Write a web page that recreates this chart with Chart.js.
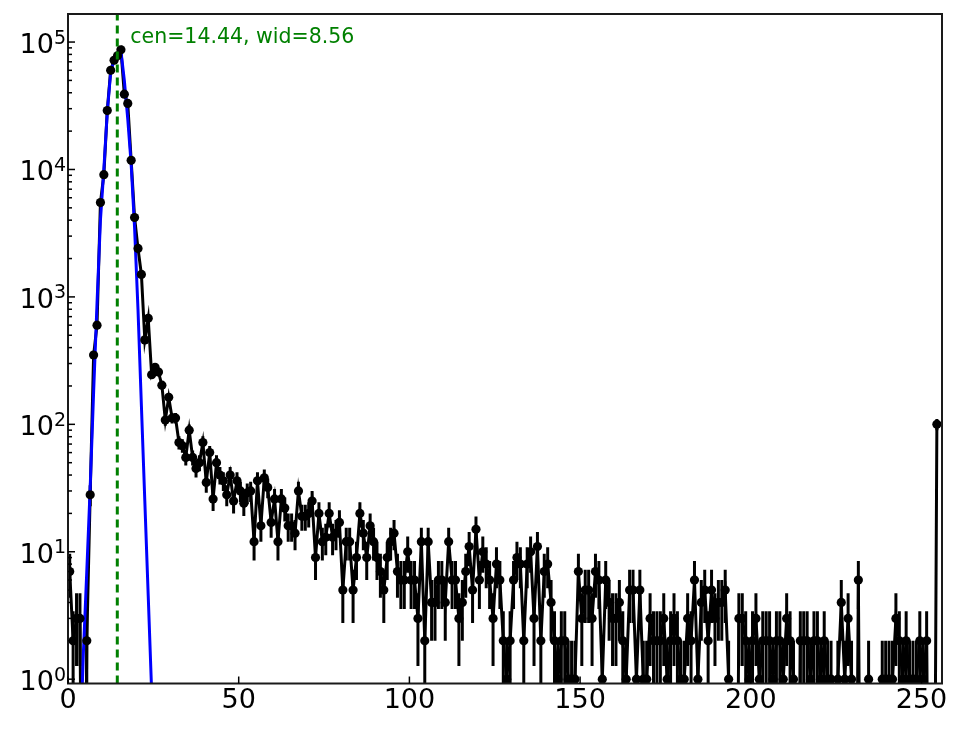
<!DOCTYPE html>
<html>
<head>
<meta charset="utf-8">
<script src="https://cdn.jsdelivr.net/npm/chart.js@4.4.1/dist/chart.umd.min.js"></script>
<style>
html,body{margin:0;padding:0;background:#ffffff;}
#wrap{width:964px;height:729px;position:relative;}
</style>
</head>
<body>
<div id="wrap"><canvas id="c"></canvas></div>
<script>
// ---- data ----
// histogram counts, one per bin (bins 0..254), plotted at bin centres
const counts = [
  7, 2, 3, 3, 0, 2, 28, 350, 600, 5500,
  9100, 29000, 60000, 72000, 78000, 87000, 39000, 33000, 11800, 4200,
  2400, 1500, 460, 680, 245, 280, 257, 203, 108, 163,
  112, 112, 72, 68, 55, 90, 55, 45, 50, 72,
  35, 60, 26, 50, 40, 36, 28, 40, 25, 36,
  30, 24, 29, 30, 12, 36, 16, 38, 32, 17,
  26, 12, 26, 22, 16, 16, 14, 30, 19, 19,
  20, 25, 9, 20, 12, 13, 20, 13, 14, 17,
  5, 12, 12, 5, 9, 20, 14, 9, 16, 12,
  9, 7, 5, 9, 12, 14, 7, 6, 6, 10,
  6, 6, 3, 12, 2, 12, 4, 4, 6, 6,
  4, 12, 6, 6, 3, 4, 7, 11, 5, 15,
  6, 10, 8, 6, 3, 8, 6, 2, 1, 2,
  6, 9, 8, 2, 8, 10, 3, 11, 2, 7,
  8, 4, 2, 1, 2, 2, 1, 1, 1, 7,
  3, 5, 5, 3, 7, 6, 1, 6, 4, 3,
  3, 4, 2, 1, 5, 5, 1, 5, 1, 1,
  3, 2, 2, 2, 3, 1, 2, 3, 2, 1,
  1, 3, 2, 6, 1, 4, 5, 2, 5, 3,
  4, 4, 5, 1, 0, 0, 3, 3, 2, 1,
  2, 3, 1, 2, 2, 2, 1, 2, 2, 1,
  3, 2, 1, 0, 2, 2, 2, 1, 2, 2,
  1, 2, 1, 1, 0, 1, 4, 1, 3, 1,
  0, 6, 0, 0, 1, 0, 0, 0, 1, 1,
  1, 1, 3, 2, 1, 2, 1, 1, 1, 2,
  1, 2, 0, 0, 100
];
const binOffset = 0.5;

const fitX = [3.5, 4.5, 5.5, 6.5, 7.5, 8.5, 9.5, 10.5, 11.5, 12.5, 13.5, 14.5,
              15.5, 16.5, 17.5, 18.5, 19.5, 20.5, 21.5, 22.5, 23.5, 24.5, 25.5];
const fitY = [0.25, 1.6, 7, 32, 178, 890, 4000, 10000, 28000, 58000, 72000, 80000,
              85000, 50000, 25000, 11000, 3500, 800, 140, 25, 4.5, 0.8, 0.12];

const fitCentre = 14.44;
const annotationText = 'cen=14.44, wid=8.56';

const xTickValues = [0, 50, 100, 150, 200, 250];
const xTickLabels = ['0', '50', '100', '150', '200', '250'];
const yDecadeExponents = [0, 1, 2, 3, 4, 5];

// empty bins are drawn down to (below) the bottom of the log axis
const logFloor = 1e-3;

// ---- build chart data ----
const dataPoints = counts.map((c, i) => ({x: i + binOffset, y: c > 0 ? c : logFloor}));
const fitPoints = fitX.map((x, i) => ({x: x, y: fitY[i]}));

const FONT = '"DejaVu Sans", "Liberation Sans", sans-serif';

const decorPlugin = {
  id: 'decor',
  beforeDatasetsDraw(chart) {
    const {ctx, chartArea, scales} = chart;
    const xs = scales.x, ys = scales.y;
    ctx.save();
    ctx.beginPath();
    ctx.rect(chartArea.left, chartArea.top, chartArea.right - chartArea.left, chartArea.bottom - chartArea.top);
    ctx.clip();
    ctx.strokeStyle = '#000000';
    ctx.lineWidth = 3;
    ctx.lineCap = 'butt';
    counts.forEach((c, i) => {
      if (c <= 0) return;
      const e = Math.sqrt(c);
      const px = xs.getPixelForValue(i + binOffset);
      const lo = c - e;
      const pLo = lo > 0 ? ys.getPixelForValue(lo) : chartArea.bottom + 5;
      const pHi = ys.getPixelForValue(c + e);
      ctx.beginPath();
      ctx.moveTo(px, Math.min(pLo, chartArea.bottom + 5));
      ctx.lineTo(px, pHi);
      ctx.stroke();
    });
    ctx.restore();
  },
  afterDatasetsDraw(chart) {
    const {ctx, chartArea, scales} = chart;
    const xs = scales.x, ys = scales.y;
    const L = chartArea.left, R = chartArea.right, T = chartArea.top, B = chartArea.bottom;

    // green dashed centre line
    ctx.save();
    const gx = xs.getPixelForValue(fitCentre);
    ctx.strokeStyle = '#008000';
    ctx.lineWidth = 3;
    ctx.setLineDash([8, 5]);
    ctx.beginPath();
    ctx.moveTo(gx, B);
    ctx.lineTo(gx, T);
    ctx.stroke();
    ctx.restore();

    // annotation
    ctx.save();
    ctx.fillStyle = '#008000';
    ctx.font = '20.5px ' + FONT;
    ctx.textAlign = 'left';
    ctx.textBaseline = 'alphabetic';
    ctx.fillText(annotationText, gx + 13, T + 29);
    ctx.restore();

    // frame
    ctx.save();
    ctx.strokeStyle = '#1a1a1a';
    ctx.lineWidth = 2;
    ctx.strokeRect(L, T, R - L, B - T);

    // ticks (inward, bottom and left only)
    ctx.lineWidth = 1.5;
    ctx.strokeStyle = '#000000';
    xTickValues.forEach(v => {
      const px = xs.getPixelForValue(v);
      ctx.beginPath(); ctx.moveTo(px, B); ctx.lineTo(px, B - 7); ctx.stroke();
    });
    yDecadeExponents.forEach(e => {
      for (let m = 1; m <= 9; m++) {
        const v = m * Math.pow(10, e);
        if (v < ys.min || v > ys.max) continue;
        const py = ys.getPixelForValue(v);
        const len = m === 1 ? 7 : 4;
        ctx.beginPath(); ctx.moveTo(L, py); ctx.lineTo(L + len, py); ctx.stroke();
      }
    });

    // x labels
    ctx.fillStyle = '#000000';
    ctx.font = '27px ' + FONT;
    ctx.textAlign = 'center';
    ctx.textBaseline = 'alphabetic';
    xTickValues.forEach((v, i) => {
      ctx.fillText(xTickLabels[i], xs.getPixelForValue(v), B + 24);
    });

    // y labels: 10 with superscript exponent
    ctx.textAlign = 'left';
    yDecadeExponents.forEach(e => {
      const py = ys.getPixelForValue(Math.pow(10, e));
      const sup = String(e);
      ctx.font = '19px ' + FONT;
      const sw = ctx.measureText(sup).width;
      const right = L - 2;
      ctx.fillText(sup, right - sw, py + 1.5);
      ctx.font = '27px ' + FONT;
      const bw = ctx.measureText('10').width;
      ctx.fillText('10', right - sw - bw, py + 11);
    });
    ctx.restore();
  }
};

new Chart(document.getElementById('c'), {
  type: 'line',
  data: {
    datasets: [
      {
        label: 'counts-markers',
        data: dataPoints,
        showLine: false,
        pointRadius: (c) => (counts[c.dataIndex] > 0 ? 4.6 : 0),
        pointBackgroundColor: '#000000',
        pointBorderColor: '#000000',
        pointBorderWidth: 0,
        order: 1
      },
      {
        label: 'fit',
        data: fitPoints,
        borderColor: '#0000ff',
        borderWidth: 3,
        pointRadius: 0,
        tension: 0,
        fill: false,
        order: 2
      },
      {
        label: 'counts-line',
        data: dataPoints,
        borderColor: '#000000',
        borderWidth: 3,
        pointRadius: 0,
        tension: 0,
        fill: false,
        order: 3
      }
    ]
  },
  options: {
    responsive: true,
    maintainAspectRatio: false,
    animation: false,
    events: [],
    layout: {padding: {left: 68, right: 22, top: 14, bottom: 45.5}},
    plugins: {legend: {display: false}, tooltip: {enabled: false}, title: {display: false}},
    scales: {
      x: {type: 'linear', min: 0, max: 256, display: false},
      y: {type: 'logarithmic', min: 0.925, max: 166000, display: false}
    }
  },
  plugins: [decorPlugin]
});
</script>
</body>
</html>
